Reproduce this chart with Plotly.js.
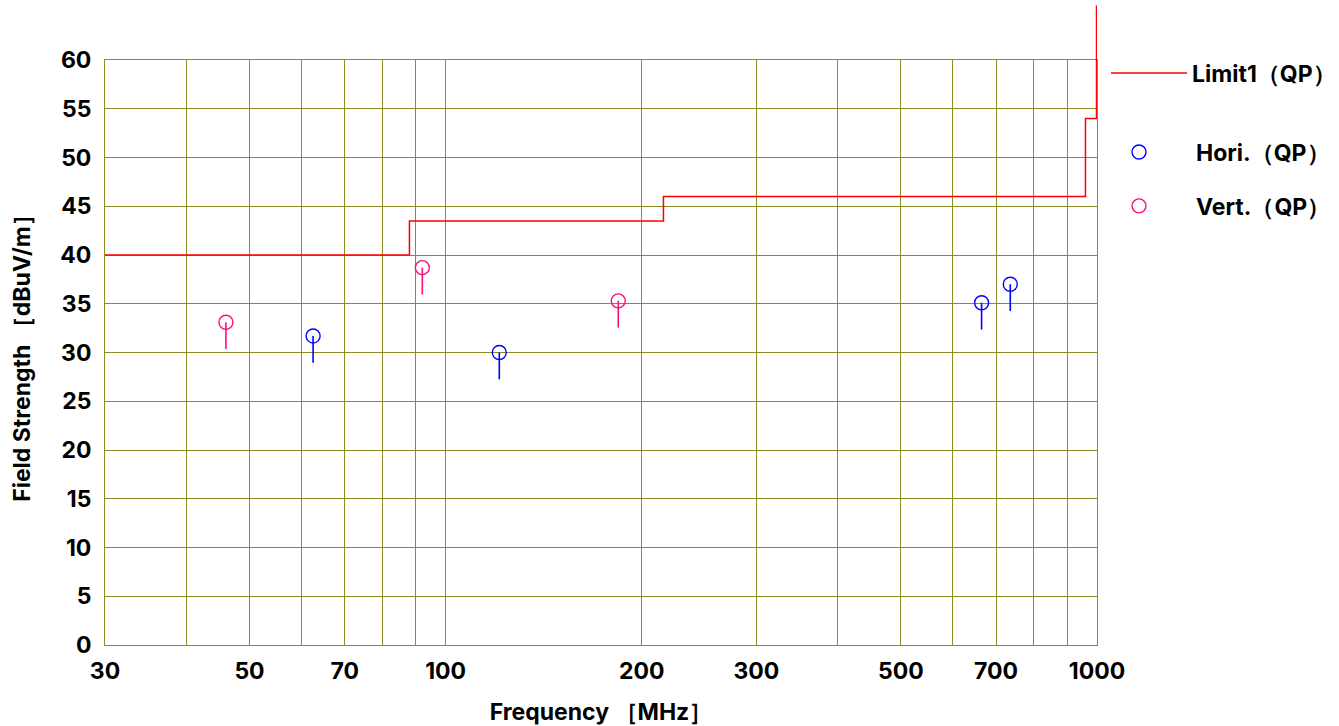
<!DOCTYPE html>
<html>
<head>
<meta charset="utf-8">
<script src="https://cdn.plot.ly/plotly-3.0.1.min.js"></script>
<style>html,body{margin:0;padding:0;background:#fff;}#chart{width:1339px;height:726px;}</style>
</head>
<body>
<div id="chart"></div>
<script>
// ---- data ----
const limitFreq = [30, 88, 216, 960, 1000];
const limitLevel = [40, 43.5, 46, 54, 54];
const horiFreq = [62.6, 120.9, 665, 736];
const horiLevel = [31.7, 30.0, 35.1, 37.0];
const vertFreq = [46.0, 92.1, 184.1];
const vertLevel = [33.1, 38.7, 35.3];
const xTickVals = [30, 40, 50, 60, 70, 80, 90, 100, 200, 300, 400, 500, 600, 700, 800, 900, 1000];
const xTickText = ['30', '', '50', '', '70', '', '', '100', '200', '300', '', '500', '', '700', '', '', '1000'];
const stemLength = 2.75;

const gridColor = '#8c8c20';
const fontFam = 'Inter, "Liberation Sans", sans-serif';
const red = '#ff0000', blue = '#0000ff', pink = '#ff0a7e';

const traces = [
  {
    x: limitFreq, y: limitLevel, mode: 'lines', line: {color: red, width: 1.5, shape: 'hv'},
    name: 'Limit1（QP）', legend: 'legend', hoverinfo: 'skip'
  },
  {
    x: horiFreq, y: horiLevel, mode: 'markers', name: 'Hori.（QP）', legend: 'legend2', legendgroup: 'h',
    marker: {symbol: 'circle-open', size: 14, color: blue, line: {width: 1.4, color: blue}},
    error_y: {type: 'constant', symmetric: false, value: 0, valueminus: stemLength, width: 0, thickness: 1.6, color: blue}
  },
  {
    x: vertFreq, y: vertLevel, mode: 'markers', name: 'Vert.（QP）', legend: 'legend2', legendgroup: 'v',
    marker: {symbol: 'circle-open', size: 14, color: pink, line: {width: 1.4, color: pink}},
    error_y: {type: 'constant', symmetric: false, value: 0, valueminus: stemLength, width: 0, thickness: 1.6, color: pink}
  }
];

const px2paperX = p => (p - 105) / 992;
const px2paperY = p => (645 - p) / 585;

const layout = {
  width: 1339, height: 726,
  margin: {l: 105, r: 242, t: 60, b: 81, autoexpand: false},
  paper_bgcolor: '#fff', plot_bgcolor: '#fff',
  font: {family: fontFam, color: '#000', size: 22},
  showlegend: true,
  xaxis: {
    type: 'log', range: [Math.log10(30), Math.log10(1000)],
    tickmode: 'array', tickvals: xTickVals, ticktext: xTickText,
    ticks: '', showgrid: true, gridcolor: gridColor, gridwidth: 1,
    showline: true, linecolor: gridColor, linewidth: 1, mirror: true,
    zeroline: false, ticklabelstandoff: 5,
    tickfont: {family: fontFam, size: 23, weight: 'bold'},
    title: {text: 'Frequency ［MHz］', font: {family: fontFam, size: 23, weight: 'bold'}, standoff: 20}
  },
  yaxis: {
    range: [0, 60], tickmode: 'linear', tick0: 0, dtick: 5,
    ticks: '', showgrid: true, gridcolor: gridColor, gridwidth: 1,
    showline: true, linecolor: gridColor, linewidth: 1, mirror: true,
    zeroline: false, ticklabelstandoff: 8,
    tickfont: {family: fontFam, size: 23, weight: 'bold'},
    title: {text: 'Field Strength ［dBuV/m］', font: {family: fontFam, size: 23, weight: 'bold'}, standoff: 23}
  },
  legend: {
    x: px2paperX(1106), xanchor: 'left', y: px2paperY(73), yanchor: 'middle',
    bgcolor: 'rgba(0,0,0,0)', itemwidth: 76, font: {family: fontFam, size: 23, weight: 'bold'}
  },
  legend2: {
    x: px2paperX(1082), xanchor: 'left', y: px2paperY(179), yanchor: 'middle',
    bgcolor: 'rgba(0,0,0,0)', itemwidth: 104, tracegroupgap: 21,
    font: {family: fontFam, size: 23, weight: 'bold'}
  },
  shapes: [
    {type: 'line', xref: 'x', yref: 'paper', x0: limitFreq[limitFreq.length - 1], x1: limitFreq[limitFreq.length - 1],
     y0: limitLevel[limitLevel.length - 1] / 60, y1: 1.093, line: {color: red, width: 2.5}}
  ]
};

Plotly.newPlot('chart', traces, layout, {displayModeBar: false, staticPlot: true});
</script>
</body>
</html>
